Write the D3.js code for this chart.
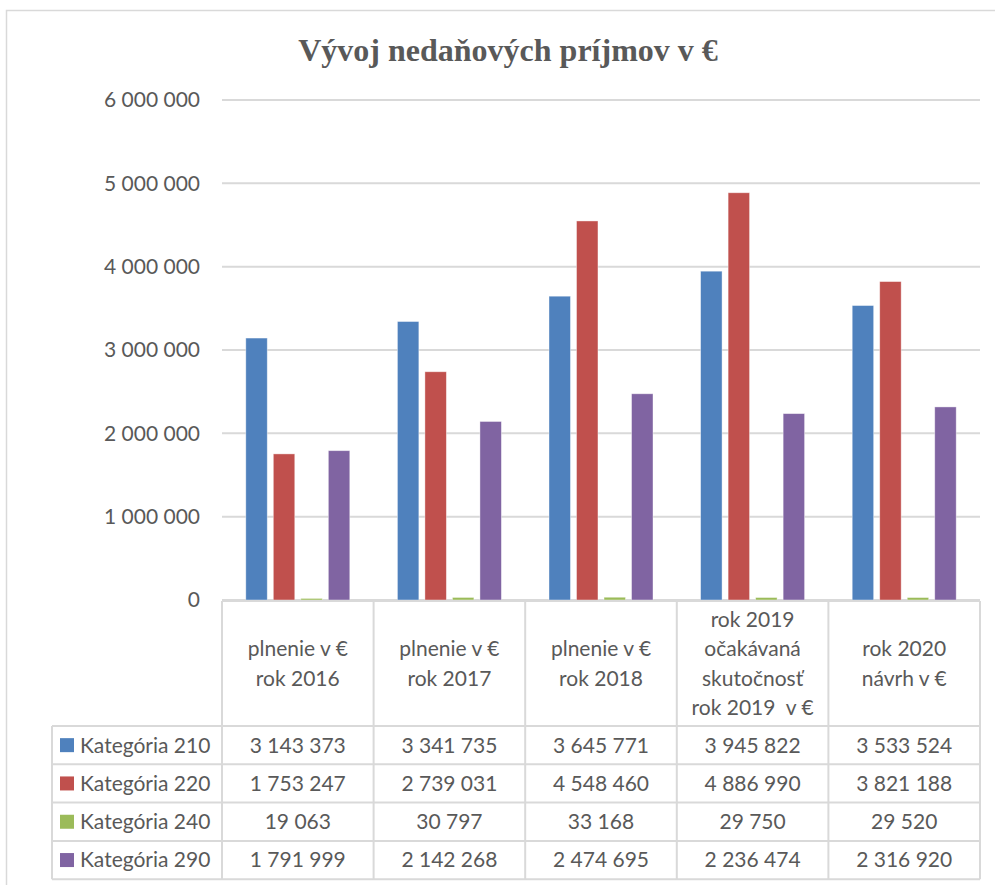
<!DOCTYPE html>
<html>
<head>
<meta charset="utf-8">
<script src="https://cdn.jsdelivr.net/npm/d3@7"></script>
<style>
  body { margin: 0; background: #fff; }
  text { fill: #595959; }
</style>
</head>
<body>
<div id="chart"></div>
<script>
// data
var categories = [
  ["plnenie v €", "rok 2016"],
  ["plnenie v €", "rok 2017"],
  ["plnenie v €", "rok 2018"],
  ["rok 2019", "očakávaná", "skutočnosť", "rok 2019  v €"],
  ["rok 2020", "návrh v €"]
];
var seriesNames = ["Kategória 210", "Kategória 220", "Kategória 240", "Kategória 290"];
var seriesColors = ["#4f81bd", "#c0504d", "#9bbb59", "#8064a2"];
var cat210 = [3143373, 3341735, 3645771, 3945822, 3533524];
var cat220 = [1753247, 2739031, 4548460, 4886990, 3821188];
var cat240 = [19063, 30797, 33168, 29750, 29520];
var cat290 = [1791999, 2142268, 2474695, 2236474, 2316920];
var yTicks = [0, 1000000, 2000000, 3000000, 4000000, 5000000, 6000000];

var series = [cat210, cat220, cat240, cat290];

var width = 995, height = 885;
var plot = {left: 222, right: 980, top: 100, bottom: 600};
var tableLeft = 52, headerBottom = 726, rowH = 38.3;

var fmt = d3.formatLocale({decimal: ",", thousands: " ", grouping: [3], currency: ["", "€"]}).format(",d");

var svg = d3.select("#chart")
  .append("svg")
  .attr("width", width)
  .attr("height", height);

svg.append("rect")
  .attr("x", 6.5).attr("y", 10.5)
  .attr("width", width).attr("height", height)
  .attr("fill", "#fff")
  .attr("stroke", "#d9d9d9")
  .attr("stroke-width", 1.5);

svg.append("text")
  .attr("x", 508).attr("y", 61)
  .attr("text-anchor", "middle")
  .style("font-family", "'Liberation Serif', 'Times New Roman', serif")
  .style("font-weight", "bold")
  .style("font-size", "32px")
  .text("Vývoj nedaňových príjmov v €");

var y = d3.scaleLinear().domain([0, 6000000]).range([plot.bottom, plot.top]);

var x0 = d3.scaleBand()
  .domain(d3.range(categories.length))
  .range([plot.left, plot.right])
  .padding(0);

var groupW = x0.bandwidth() * 0.686;
var x1 = d3.scaleBand()
  .domain(d3.range(series.length))
  .range([(x0.bandwidth() - groupW) / 2, (x0.bandwidth() + groupW) / 2])
  .paddingInner(0.22)
  .paddingOuter(0);

// gridlines
svg.append("g")
  .selectAll("line")
  .data(yTicks)
  .enter()
  .append("line")
    .attr("x1", plot.left).attr("x2", plot.right)
    .attr("y1", function(d) { return y(d); })
    .attr("y2", function(d) { return y(d); })
    .attr("stroke", "#d9d9d9")
    .attr("stroke-width", 2);

// y tick labels
svg.append("g")
  .selectAll("text")
  .data(yTicks)
  .enter()
  .append("text")
    .attr("x", 200)
    .attr("y", function(d) { return y(d); })
    .attr("dy", "0.35em")
    .attr("text-anchor", "end")
    .style("font-family", "Lato, 'Open Sans', sans-serif")
    .style("font-size", "21px")
    .text(function(d) { return fmt(d); });

// bars
var groups = svg.append("g")
  .selectAll("g")
  .data(categories)
  .enter()
  .append("g")
    .attr("transform", function(d, i) { return "translate(" + x0(i) + ",0)"; });

groups.selectAll("rect")
  .data(function(d, i) { return series.map(function(s, k) { return {k: k, v: s[i]}; }); })
  .enter()
  .append("rect")
    .attr("x", function(d) { return x1(d.k); })
    .attr("width", x1.bandwidth())
    .attr("y", function(d) { return y(d.v); })
    .attr("height", function(d) { return y(0) - y(d.v); })
    .attr("fill", function(d) { return seriesColors[d.k]; })
    .attr("stroke", "#fff")
    .attr("stroke-opacity", 0.5)
    .attr("stroke-width", 0.8);

// data table
var table = svg.append("g");
var rowsY = d3.range(series.length + 1).map(function(i) { return headerBottom + i * rowH; });
var tableBottom = rowsY[rowsY.length - 1];

// axis line
table.append("line")
  .attr("x1", plot.left).attr("x2", plot.right)
  .attr("y1", plot.bottom + 1).attr("y2", plot.bottom + 1)
  .attr("stroke", "#d9d9d9").attr("stroke-width", 2);

table.selectAll("line.h")
  .data(rowsY)
  .enter()
  .append("line")
    .attr("class", "h")
    .attr("x1", tableLeft).attr("x2", plot.right)
    .attr("y1", function(d) { return d; })
    .attr("y2", function(d) { return d; })
    .attr("stroke", "#d9d9d9").attr("stroke-width", 2);

var bounds = d3.range(categories.length).map(function(i) { return x0(i); }).concat([plot.right]);
table.selectAll("line.v")
  .data(bounds)
  .enter()
  .append("line")
    .attr("class", "v")
    .attr("x1", function(d) { return d; })
    .attr("x2", function(d) { return d; })
    .attr("y1", plot.bottom + 1).attr("y2", tableBottom)
    .attr("stroke", "#d9d9d9").attr("stroke-width", 2);

table.append("line")
  .attr("x1", tableLeft).attr("x2", tableLeft)
  .attr("y1", headerBottom).attr("y2", tableBottom)
  .attr("stroke", "#d9d9d9").attr("stroke-width", 2);

// header labels
var lineH = 29.5;
var headerMid = (plot.bottom + 1 + headerBottom) / 2;
table.selectAll("text.head")
  .data(categories)
  .enter()
  .append("text")
    .attr("class", "head")
    .attr("text-anchor", "middle")
    .style("font-family", "Lato, 'Open Sans', sans-serif")
    .style("font-size", "21px")
    .each(function(lines, i) {
      var t = d3.select(this);
      var cx = x0(i) + x0.bandwidth() / 2;
      var startY = headerMid - (lines.length - 1) * lineH / 2;
      lines.forEach(function(l, j) {
        t.append("tspan")
          .attr("x", cx)
          .attr("y", startY + j * lineH)
          .attr("dy", "0.35em")
          .style("white-space", "pre")
          .text(l);
      });
    });

// legend keys + values
series.forEach(function(s, k) {
  var cy = rowsY[k] + rowH / 2;
  table.append("rect")
    .attr("x", 60).attr("y", cy - 7)
    .attr("width", 14).attr("height", 14)
    .attr("fill", seriesColors[k]);
  table.append("text")
    .attr("x", 80).attr("y", cy)
    .attr("dy", "0.35em")
    .style("font-family", "Lato, 'Open Sans', sans-serif")
    .style("font-size", "21px")
    .text(seriesNames[k]);
  table.selectAll("text.v" + k)
    .data(s)
    .enter()
    .append("text")
      .attr("class", "v" + k)
      .attr("x", function(d, i) { return x0(i) + x0.bandwidth() / 2; })
      .attr("y", cy)
      .attr("dy", "0.35em")
      .attr("text-anchor", "middle")
      .style("font-family", "Lato, 'Open Sans', sans-serif")
      .style("font-size", "21px")
      .text(function(d) { return fmt(d); });
});
</script>
</body>
</html>
